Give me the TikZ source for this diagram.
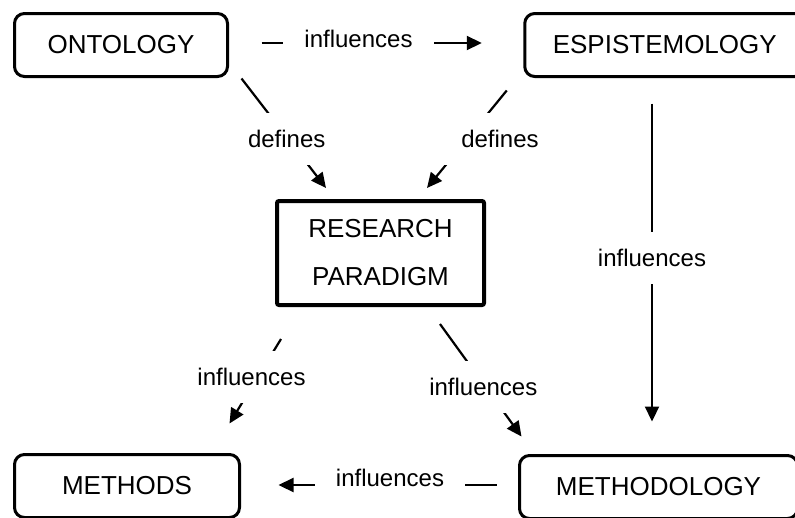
\documentclass[tikz,border=0pt]{standalone}
\usepackage{fontspec}
\setmainfont{Liberation Sans}
\usetikzlibrary{arrows.meta,calc}

\tikzset{
  concept/.style={draw, line width=3pt, rounded corners=10pt, inner sep=0pt,
    minimum height=63pt, font=\fontsize{26}{31}\selectfont},
  paradigm/.style={draw, line width=4pt, rounded corners=2pt, inner sep=0pt,
    minimum width=207pt, minimum height=104pt, align=center,
    font=\fontsize{26}{48}\selectfont},
  link/.style={line width=2.2pt, -{Triangle[length=15pt,width=14pt]}},
  rel/.style={fill=white, inner xsep=21pt, inner ysep=17pt,
    font=\fontsize{24}{29}\selectfont}
}

\begin{document}
\begin{tikzpicture}[x=1pt,y=-1pt]
  \useasboundingbox (0,0) rectangle (795,517);
  \clip (0,0) rectangle (795,517);

  % concept boxes
  \node[concept, minimum width=213pt] (onto) at (121,45) {ONTOLOGY};
  \node[concept, minimum width=280pt] (epis) at (664.75,45) {ESPISTEMOLOGY};
  \node[paradigm] (rp) at (380.5,253) {RESEARCH\\PARADIGM};
  \node[concept, minimum width=225pt] (meths) at (127,486) {METHODS};
  \node[concept, minimum width=278pt] (mlogy) at (658.5,487) {METHODOLOGY};

  % relations
  \draw[link] ($(onto.east)+(32.5,-2)$) -- ($(epis.west)+(-41.5,-2)$);
  \draw[link] ($(onto.south east)+(12.5,0.5)$) -- ($(rp.north west)+(51,-11)$);
  \draw[link] ($(epis.south west)+(-16.5,12.5)$) -- ($(rp.north east)+(-59,-11)$);
  \draw[link] ($(epis.south)+(-12.75,25.5)$) -- ($(mlogy.north)+(-6.5,-32.5)$);
  \draw[link] ($(rp.south west)+(6,32)$) -- ($(meths.north east)+(-11.5,-29.5)$);
  \draw[link] ($(rp.south east)+(-46,17)$) -- ($(mlogy.north west)+(3.5,-17.5)$);
  \draw[link] ($(mlogy.west)+(-21.5,-2)$) -- ($(meths.east)+(37.5,-1)$);

  % relation labels
  \node[rel] (l1) at (358.5,39) {influences};
  \node[rel] (l2) at (286.7,139) {defines};
  \node[rel] (l3) at (500,139) {defines};
  \node[rel] (l4) at (652,258) {influences};
  \node[rel] (l5) at (251.5,377) {influences};
  \node[rel] (l6) at (483.3,387) {influences};
  \node[rel] (l7) at (390,478) {influences};
\end{tikzpicture}
\end{document}
